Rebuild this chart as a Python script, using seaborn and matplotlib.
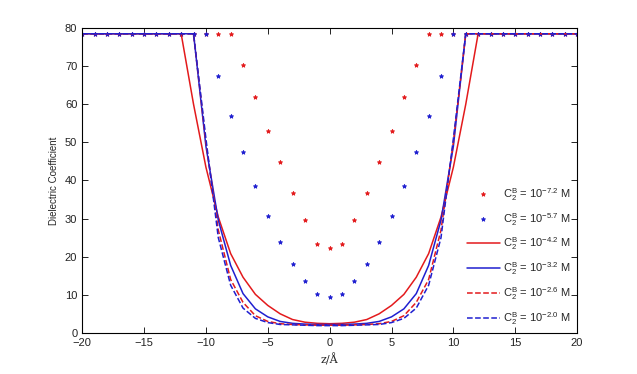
import numpy as np
import pandas as pd
import matplotlib
matplotlib.use("Agg")
import matplotlib.pyplot as plt
import seaborn as sns

# z positions (Angstrom), one value per integer step
z = list(range(-20, 21))

# half profiles for z = 0 .. 20 (curves are symmetric about z = 0)
half_m72 = [22.4, 23.3, 29.5, 36.8, 44.8, 53.1, 61.8, 70.3, 78.5, 78.5, 78.5,
            78.5, 78.5, 78.5, 78.5, 78.5, 78.5, 78.5, 78.5, 78.5, 78.5]
half_m57 = [9.5, 10.1, 13.7, 18.2, 23.9, 30.8, 38.6, 47.5, 57.0, 67.5, 78.5,
            78.5, 78.5, 78.5, 78.5, 78.5, 78.5, 78.5, 78.5, 78.5, 78.5]
half_m42 = [2.4, 2.5, 2.8, 3.5, 5.0, 7.2, 10.1, 14.6, 20.8, 30.4, 43.5,
            60.0, 78.5, 78.5, 78.5, 78.5, 78.5, 78.5, 78.5, 78.5, 78.5]
half_m32 = [2.2, 2.2, 2.3, 2.5, 3.0, 4.2, 6.3, 10.3, 17.7, 29.6, 49.0,
            78.5, 78.5, 78.5, 78.5, 78.5, 78.5, 78.5, 78.5, 78.5, 78.5]
half_m26 = [2.0, 2.0, 2.1, 2.2, 2.4, 3.0, 4.5, 8.0, 14.0, 27.0, 50.0,
            78.5, 78.5, 78.5, 78.5, 78.5, 78.5, 78.5, 78.5, 78.5, 78.5]
half_m20 = [1.9, 1.9, 2.0, 2.1, 2.2, 2.7, 3.8, 6.5, 12.5, 25.0, 51.0,
            78.5, 78.5, 78.5, 78.5, 78.5, 78.5, 78.5, 78.5, 78.5, 78.5]


def mirror(half):
    return half[:0:-1] + half


labels = [r"$\mathregular{C_2^B}$ = $\mathregular{10^{-7.2}}$ M",
          r"$\mathregular{C_2^B}$ = $\mathregular{10^{-5.7}}$ M",
          r"$\mathregular{C_2^B}$ = $\mathregular{10^{-4.2}}$ M",
          r"$\mathregular{C_2^B}$ = $\mathregular{10^{-3.2}}$ M",
          r"$\mathregular{C_2^B}$ = $\mathregular{10^{-2.6}}$ M",
          r"$\mathregular{C_2^B}$ = $\mathregular{10^{-2.0}}$ M"]
series = [half_m72, half_m57, half_m42, half_m32, half_m26, half_m20]
colors = ["#e31a1c", "#1f1fd0", "#e31a1c", "#1f1fd0", "#e31a1c", "#1f1fd0"]
styles = ["dots", "dots", "-", "-", "--", "--"]

sns.set_style("ticks")
plt.rcParams["font.family"] = ["Liberation Sans", "DejaVu Sans"]
plt.rcParams["mathtext.fontset"] = "custom"
plt.rcParams["mathtext.rm"] = "Liberation Sans"
plt.rcParams["xtick.direction"] = "in"
plt.rcParams["ytick.direction"] = "in"

fig = plt.figure(figsize=(6.37, 3.74), dpi=100)
ax = fig.add_axes([0.129, 0.110, 0.777, 0.815])

for half, col, st, lab in zip(series, colors, styles, labels):
    y = mirror(half)
    if st == "dots":
        sns.lineplot(x=z, y=y, ax=ax, color=col, linestyle="none", marker="*",
                     markersize=3.2, markeredgewidth=0.6, markeredgecolor=col,
                     markerfacecolor=col, label=lab)
    else:
        sns.lineplot(x=z, y=y, ax=ax, color=col, linestyle=st, linewidth=1.1,
                     label=lab)

ax.set_xlim(-20, 20)
ax.set_ylim(0, 80)
ax.set_xticks(range(-20, 21, 5))
ax.set_yticks(range(0, 81, 10))
ax.tick_params(labelsize=8, top=True, right=True, length=4, width=0.6,
               color="black", labelcolor="#222222")
for sp in ax.spines.values():
    sp.set_linewidth(0.8)
    sp.set_color("black")
ax.set_xlabel("z/Å", fontsize=8, family="DejaVu Serif")
ax.set_ylabel("Dielectric Coefficient", fontsize=7)

ax.legend(loc="lower right", frameon=False, fontsize=8, labelspacing=0.72,
          handlelength=3.0, handletextpad=0.3, borderaxespad=0.15)

fig.savefig("out.png", dpi=100)
